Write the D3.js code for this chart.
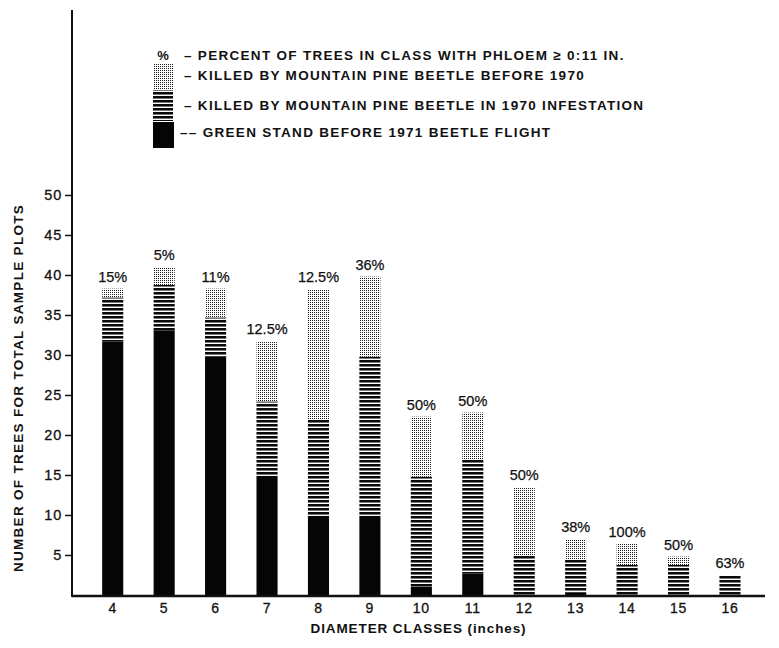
<!DOCTYPE html>
<html><head><meta charset="utf-8">
<script src="https://cdn.jsdelivr.net/npm/d3@7"></script>
<style>
html,body{margin:0;padding:0;background:#fff;}
svg{display:block;font-family:"Liberation Sans",Arial,sans-serif;}
</style></head>
<body><svg id="c" width="779" height="648"></svg>
<script>
const classes = ["4","5","6","7","8","9","10","11","12","13","14","15","16"];
const greenStand = [31.7, 33.1, 29.8, 14.9, 9.9, 9.9, 1.0, 2.7, 0, 0.3, 0, 0, 0];
const killed1970 = [5.5, 5.65, 4.9, 9.3, 12.1, 19.9, 13.8, 14.3, 4.9, 4.1, 3.75, 3.75, 2.5];
const killedBefore = [1.1, 2.25, 3.6, 7.5, 16.2, 10.0, 7.5, 5.8, 8.6, 2.6, 2.65, 1.05, 0];
const pctLabels = ["15%","5%","11%","12.5%","12.5%","36%","50%","50%","50%","38%","100%","50%","63%"];
const yTicks = [5,10,15,20,25,30,35,40,45,50];
const legendItems = [
  {key:"pct", text:"– PERCENT OF TREES IN CLASS WITH PHLOEM ≥ 0:11 IN."},
  {key:"before", text:"– KILLED BY MOUNTAIN PINE BEETLE BEFORE 1970"},
  {key:"k1970", text:"– KILLED BY MOUNTAIN PINE BEETLE IN 1970 INFESTATION"},
  {key:"green", text:"–– GREEN STAND BEFORE 1971 BEETLE FLIGHT"}
];

const svg = d3.select("#c");
const defs = svg.append("defs");
// dotted pattern
const pd = defs.append("pattern").attr("id","dots").attr("patternUnits","userSpaceOnUse")
  .attr("width",2).attr("height",2);
pd.append("rect").attr("width",2).attr("height",2).attr("fill","#fff");
pd.append("rect").attr("width",1).attr("height",1).attr("fill","#1a1a1a");
// striped pattern
const ps = defs.append("pattern").attr("id","stripes").attr("patternUnits","userSpaceOnUse")
  .attr("width",4).attr("height",4);
ps.append("rect").attr("width",4).attr("height",4).attr("fill","#fff");
ps.append("rect").attr("y",0).attr("width",4).attr("height",2).attr("fill","#0a0a0a");
ps.append("rect").attr("y",2).attr("width",4).attr("height",1).attr("fill","#777");

const fills = {green:"#050505", k1970:"url(#stripes)", before:"url(#dots)"};

const x0 = 72, x1 = 765, yBase = 595;
const x = d3.scaleBand().domain(classes).range([87, 755.7]).paddingInner(0.59).paddingOuter(0.295);
const y = d3.scaleLinear().domain([0,50]).range([yBase,195]);

const rows = classes.map((c,i)=>({cls:c, green:greenStand[i], k1970:killed1970[i], before:killedBefore[i], pct:pctLabels[i]}));
const stack = d3.stack().keys(["green","k1970","before"])(rows);

const gBars = svg.append("g");
stack.forEach(layer=>{
  gBars.selectAll(null).data(layer.filter(d=>d[1]-d[0]>0)).enter().append("rect")
    .attr("x", d=>x(d.data.cls))
    .attr("width", x.bandwidth())
    .attr("y", d=>y(d[1]))
    .attr("height", d=>y(d[0])-y(d[1]))
    .attr("fill", fills[layer.key]);
});

// percent labels
svg.append("g").selectAll("text").data(rows).enter().append("text")
  .attr("x", d=>x(d.cls)+x.bandwidth()/2)
  .attr("y", d=>y(d.green+d.k1970+d.before)-7)
  .attr("text-anchor","middle")
  .attr("font-size",14.5).attr("fill","#111").attr("stroke","#111").attr("stroke-width",0.25)
  .text(d=>d.pct);

// y axis
const gy = svg.append("g").attr("transform",`translate(${x0},0)`)
  .call(d3.axisLeft(y).tickValues(yTicks).tickSize(7).tickPadding(3).tickSizeOuter(0));
gy.select(".domain").remove();
gy.selectAll(".tick line").attr("stroke","#111").attr("stroke-width",1.5);
gy.selectAll(".tick text").attr("font-size",14.5).attr("fill","#111").attr("stroke","#111").attr("stroke-width",0.3)
  .attr("font-family","Liberation Sans, Arial").attr("letter-spacing",0.8);
svg.append("line").attr("x1",x0).attr("x2",x0).attr("y1",10).attr("y2",yBase+2)
  .attr("stroke","#111").attr("stroke-width",2);

// x axis
const gx = svg.append("g").attr("transform",`translate(0,${yBase})`)
  .call(d3.axisBottom(x).tickSize(0).tickPadding(8));
gx.select(".domain").remove();
gx.selectAll(".tick text").attr("font-size",14).attr("fill","#111").attr("stroke","#111").attr("stroke-width",0.3)
  .attr("font-family","Liberation Sans, Arial").attr("letter-spacing",0.8);
svg.append("line").attr("x1",x0).attr("x2",x1).attr("y1",yBase+1).attr("y2",yBase+1)
  .attr("stroke","#111").attr("stroke-width",2.5);

// axis titles
svg.append("text").attr("x",(x0+x1)/2).attr("y",633).attr("text-anchor","middle")
  .attr("font-size",13.5).attr("font-weight","bold").attr("letter-spacing",0.9).attr("fill","#111")
  .text("DIAMETER CLASSES (inches)");
svg.append("text").attr("transform","translate(23,388) rotate(-90)").attr("text-anchor","middle")
  .attr("font-size",13.5).attr("font-weight","bold").attr("letter-spacing",1.3).attr("fill","#111")
  .text("NUMBER OF TREES FOR TOTAL SAMPLE PLOTS");

// legend
const lg = svg.append("g");
const rowY = {pct:55, before:75, k1970:105, green:132};
lg.append("text").attr("x",163).attr("y",rowY.pct).attr("dy","0.35em").attr("text-anchor","middle")
  .attr("font-size",13).attr("font-weight","bold").attr("fill","#111").text("%");
lg.append("rect").attr("x",153).attr("y",63).attr("width",20).attr("height",26).attr("fill",fills.before);
lg.append("rect").attr("x",153).attr("y",90).attr("width",20).attr("height",31).attr("fill",fills.k1970);
lg.append("rect").attr("x",153).attr("y",122).attr("width",21).attr("height",26).attr("fill",fills.green);
lg.selectAll(".lt").data(legendItems).enter().append("text")
  .attr("x",d=>d.key==="green"?180:184).attr("y",d=>rowY[d.key]).attr("dy","0.35em")
  .attr("font-size",13.5).attr("font-weight","bold").attr("letter-spacing",1.3).attr("fill","#111")
  .text(d=>d.text);
</script></body></html>
